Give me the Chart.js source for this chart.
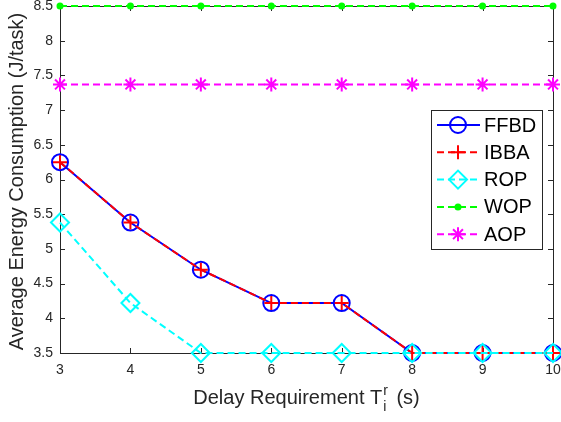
<!DOCTYPE html>
<html>
<head>
<meta charset="utf-8">
<script src="https://cdn.jsdelivr.net/npm/chart.js@4.4.1/dist/chart.umd.min.js"></script>
<style>
html, body { margin: 0; padding: 0; background: #fff; }
#wrap { width: 561px; height: 422px; }
</style>
</head>
<body>
<div id="wrap"><canvas id="chart" width="561" height="422"></canvas></div>
<script>
// Data
const delays = [3, 4, 5, 6, 7, 8, 9, 10];
const ffbd = [6.25, 5.38, 4.70, 4.22, 4.22, 3.50, 3.50, 3.50];
const ibba = [6.25, 5.38, 4.70, 4.22, 4.22, 3.50, 3.50, 3.50];
const rop  = [5.38, 4.22, 3.50, 3.50, 3.50, 3.50, 3.50, 3.50];
const wop  = [8.50, 8.50, 8.50, 8.50, 8.50, 8.50, 8.50, 8.50];
const aop  = [7.37, 7.37, 7.37, 7.37, 7.37, 7.37, 7.37, 7.37];
const xTicks = [3, 4, 5, 6, 7, 8, 9, 10];
const yTicks = [3.5, 4, 4.5, 5, 5.5, 6, 6.5, 7, 7.5, 8, 8.5];

const axisColor = '#262626';
const fontName = '"Liberation Sans", Arial, Helvetica, sans-serif';

const toPoints = (vals) => vals.map((v, i) => ({ x: delays[i], y: v }));

function makeSet(label, vals, color, dash, style, radius, fill, order) {
    return {
        label: label,
        data: toPoints(vals),
        borderColor: color,
        borderWidth: 2,
        borderDash: dash,
        pointStyle: style,
        pointRadius: radius,
        pointHoverRadius: radius,
        pointBorderWidth: 2,
        pointBorderColor: color,
        pointBackgroundColor: fill ? color : 'rgba(0,0,0,0)',
        tension: 0,
        fill: false,
        clip: false,
        order: order
    };
}

// MATLAB style box with inward ticks
const boxPlugin = {
    id: 'matlabBox',
    beforeDatasetsDraw(chart) {
        const { ctx, chartArea: a, scales } = chart;
        ctx.save();
        ctx.strokeStyle = axisColor;
        ctx.lineWidth = 1;
        ctx.strokeRect(a.left + 0.5, a.top + 0.5, a.right - a.left, a.bottom - a.top);
        ctx.beginPath();
        xTicks.forEach(t => {
            const px = Math.round(scales.x.getPixelForValue(t)) + 0.5;
            ctx.moveTo(px, a.bottom); ctx.lineTo(px, a.bottom - 5);
            ctx.moveTo(px, a.top); ctx.lineTo(px, a.top + 5);
        });
        yTicks.forEach(t => {
            const py = Math.round(scales.y.getPixelForValue(t)) + 0.5;
            ctx.moveTo(a.left, py); ctx.lineTo(a.left + 5, py);
            ctx.moveTo(a.right, py); ctx.lineTo(a.right - 5, py);
        });
        ctx.stroke();
        ctx.restore();
    }
};

// legend box inside the plot + axis titles
const legendPlugin = {
    id: 'boxLegend',
    afterDraw(chart) {
        const { ctx, chartArea: a } = chart;
        const w = 111, h = 139;
        const left = a.right - 122, top = a.top + 104;
        ctx.save();
        ctx.fillStyle = '#fff';
        ctx.fillRect(left, top, w, h);
        ctx.strokeStyle = axisColor;
        ctx.lineWidth = 1;
        ctx.strokeRect(left + 0.5, top + 0.5, w, h);

        chart.data.datasets.forEach((ds, i) => {
            const cy = top + 15 + i * 27.3;
            ctx.strokeStyle = ds.borderColor;
            ctx.lineWidth = ds.borderWidth;
            ctx.setLineDash(ds.borderDash || []);
            ctx.beginPath();
            ctx.moveTo(left + 6, cy);
            ctx.lineTo(left + 49, cy);
            ctx.stroke();
            ctx.setLineDash([]);
            ctx.fillStyle = ds.pointBackgroundColor;
            ctx.strokeStyle = ds.pointBorderColor;
            ctx.lineWidth = ds.pointBorderWidth;
            Chart.helpers.drawPoint(ctx, {
                pointStyle: ds.pointStyle,
                radius: ds.pointRadius,
                borderWidth: ds.pointBorderWidth,
                rotation: 0
            }, left + 27, cy);
            ctx.fillStyle = '#000';
            ctx.font = '20px ' + fontName;
            ctx.textBaseline = 'middle';
            ctx.textAlign = 'left';
            ctx.fillText(ds.label, left + 53, cy + 1);
        });

        // y title
        ctx.fillStyle = axisColor;
        ctx.font = '20px ' + fontName;
        ctx.textAlign = 'center';
        ctx.textBaseline = 'middle';
        ctx.save();
        ctx.translate(17, (a.top + a.bottom) / 2 + 2);
        ctx.rotate(-Math.PI / 2);
        ctx.fillText('Average Energy Consumption (J/task)', 0, 0);
        ctx.restore();

        // x title with sub/superscript
        const base = 404;
        ctx.textAlign = 'left';
        ctx.textBaseline = 'alphabetic';
        ctx.font = '20px ' + fontName;
        const s1 = 'Delay Requirement T', s3 = ' (s)';
        const w1 = ctx.measureText(s1).width;
        const w3 = ctx.measureText(s3).width;
        ctx.font = '14px ' + fontName;
        const ws = Math.max(ctx.measureText('r').width, ctx.measureText('i').width);
        const total = w1 + 1 + ws + 3 + w3;
        let x0 = (a.left + a.right) / 2 - total / 2;
        ctx.font = '20px ' + fontName;
        ctx.fillText(s1, x0, base);
        ctx.font = '14px ' + fontName;
        ctx.fillText('r', x0 + w1 + 1, base - 9);
        ctx.fillText('i', x0 + w1 + 1, base + 7);
        ctx.font = '20px ' + fontName;
        ctx.fillText(s3, x0 + w1 + 1 + ws + 3, base);
        ctx.restore();
    }
};

const ctx = document.getElementById('chart').getContext('2d');
new Chart(ctx, {
    type: 'line',
    data: {
        datasets: [
            makeSet('FFBD', ffbd, '#0000ff', [], 'circle', 8, false, 5),
            makeSet('IBBA', ibba, '#ff0000', [7, 4], 'cross', 7, false, 4),
            makeSet('ROP', rop, '#00ffff', [7, 4], 'rectRot', 9, false, 3),
            makeSet('WOP', wop, '#00ff00', [7, 4], 'circle', 2.5, true, 2),
            makeSet('AOP', aop, '#ff00ff', [7, 4], 'star', 7, false, 1)
        ]
    },
    options: {
        responsive: false,
        animation: false,
        devicePixelRatio: 1,
        layout: { autoPadding: false, padding: { left: 0, right: 8, top: 6, bottom: 0 } },
        plugins: {
            legend: { display: false },
            tooltip: { enabled: false }
        },
        scales: {
            x: {
                type: 'linear',
                min: 3,
                max: 10,
                grid: { display: false, drawTicks: false },
                border: { display: false },
                afterBuildTicks: (s) => { s.ticks = xTicks.map(v => ({ value: v })); },
                afterFit: (s) => { s.height = 69; s.paddingLeft = 0; s.paddingRight = 0; },
                ticks: {
                    color: axisColor,
                    padding: 9,
                    maxRotation: 0,
                    font: { family: fontName, size: 14 },
                    callback: (v) => String(v)
                }
            },
            y: {
                min: 3.5,
                max: 8.5,
                grid: { display: false, drawTicks: false },
                border: { display: false },
                afterBuildTicks: (s) => { s.ticks = yTicks.map(v => ({ value: v })); },
                afterFit: (s) => { s.width = 60; s.paddingTop = 0; s.paddingBottom = 0; },
                ticks: {
                    color: axisColor,
                    padding: 7,
                    font: { family: fontName, size: 14 },
                    callback: (v) => String(v)
                }
            }
        }
    },
    plugins: [boxPlugin, legendPlugin]
});
</script>
</body>
</html>
